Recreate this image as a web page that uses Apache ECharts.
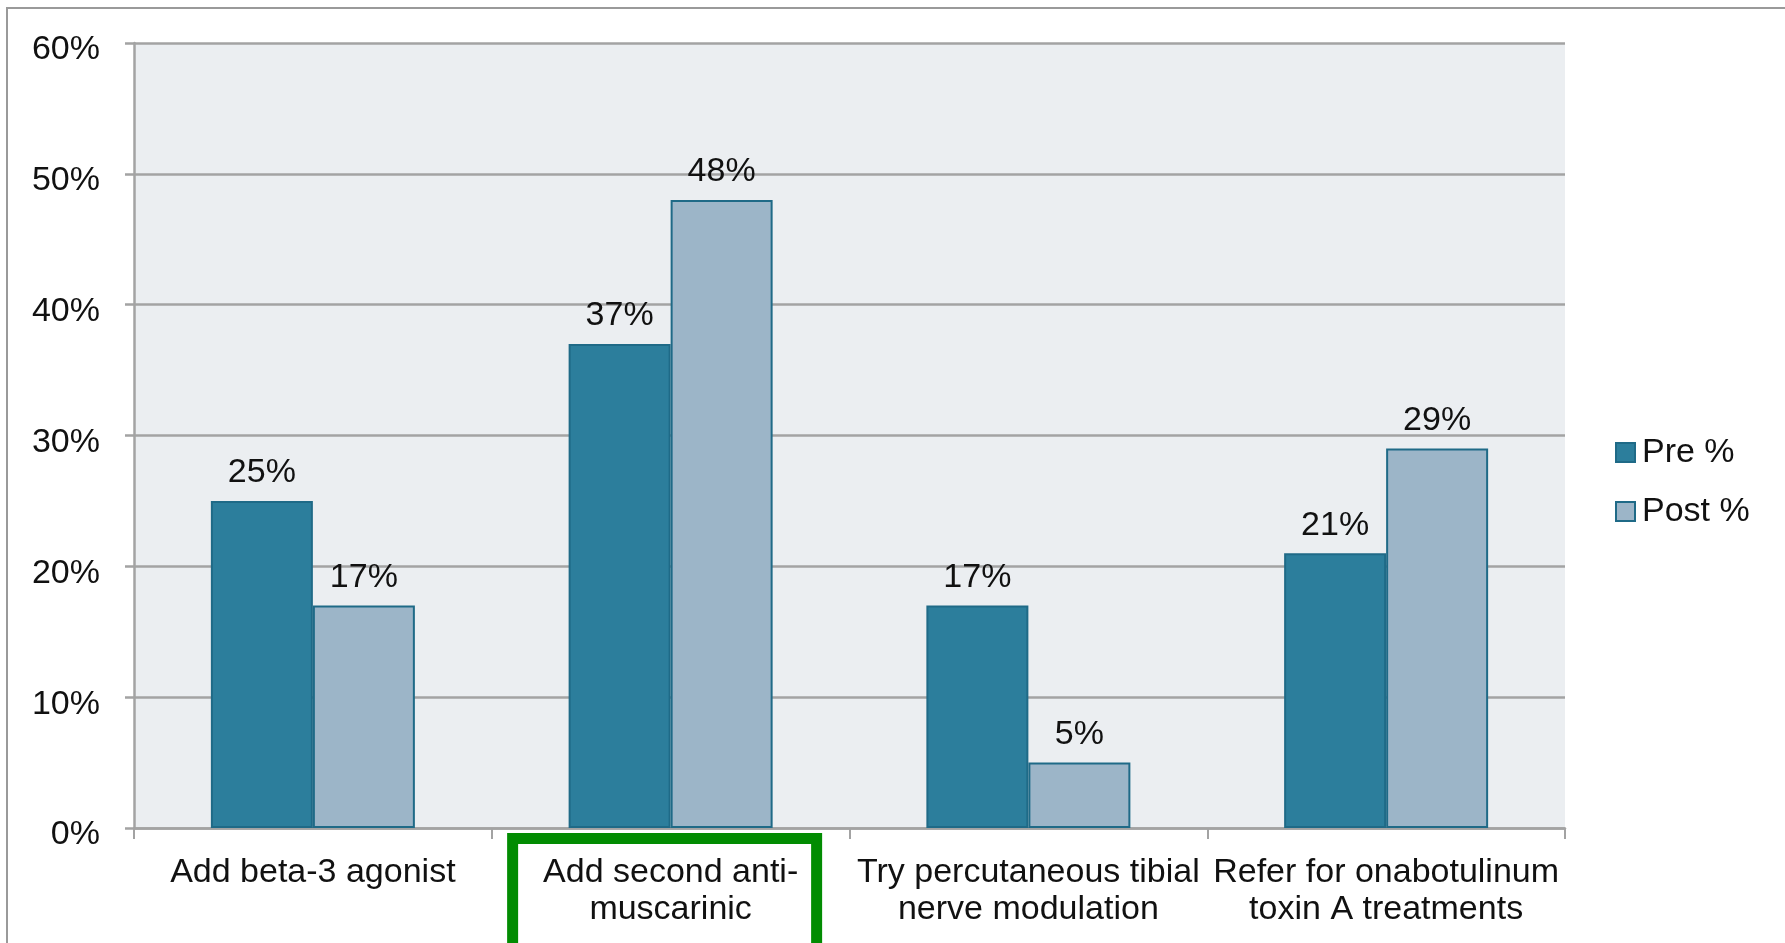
<!DOCTYPE html>
<html>
<head>
<meta charset="utf-8">
<title>Pre vs Post</title>
<script src="https://cdn.jsdelivr.net/npm/echarts@6/dist/echarts.min.js"></script>
<style>
  html, body { margin: 0; padding: 0; background: #ffffff; }
  #chart { width: 1785px; height: 943px; }
</style>
</head>
<body>
<div id="chart"></div>
<script>
// Treatment options (category labels, wrapped as shown under the axis)
const categories = [
  'Add beta-3 agonist',
  'Add second anti-\nmuscarinic',
  'Try percutaneous tibial\nnerve modulation',
  'Refer for onabotulinum\ntoxin A treatments'
];
// Share of responses choosing each option, in percent
const preValues = [25, 37, 17, 21];
const postValues = [17, 48, 5, 29];
const seriesNames = ['Pre %', 'Post %'];
// Value axis range and step, in percent
const yMin = 0;
const yMax = 60;
const yStep = 10;
// Index of the option that is boxed in green
const highlightIndex = 1;

const FONT = '"Liberation Sans", Arial, sans-serif';
const PRE_COLOR = '#2c7e9c';
const POST_COLOR = '#9cb5c8';
const EDGE_COLOR = '#1f6a87';
const GRID_COLOR = '#a3a3a3';

const chart = echarts.init(document.getElementById('chart'), null, { renderer: 'canvas' });

const labelStyle = {
  show: true,
  position: 'top',
  distance: 11,
  formatter: '{c}%',
  fontFamily: FONT,
  fontSize: 34,
  color: '#111111'
};

chart.setOption({
  animation: false,
  backgroundColor: '#ffffff',
  textStyle: { fontFamily: FONT },
  grid: {
    left: 134,
    right: 220,
    top: 43,
    bottom: 115,
    show: true,
    backgroundColor: '#ebeef1',
    borderWidth: 0
  },
  legend: {
    orient: 'vertical',
    left: 1610,
    top: 429,
    itemWidth: 19,
    itemHeight: 19,
    itemGap: 22,
    icon: 'rect',
    textStyle: { fontFamily: FONT, fontSize: 34, color: '#111111', lineHeight: 37, padding: [0, 0, 0, 2] },
    data: seriesNames
  },
  xAxis: {
    type: 'category',
    data: categories,
    boundaryGap: true,
    axisLine: { show: true, lineStyle: { color: GRID_COLOR, width: 2.5 } },
    axisTick: { show: true, length: 11, lineStyle: { color: GRID_COLOR, width: 2 } },
    axisLabel: {
      interval: 0,
      margin: 26,
      fontFamily: FONT,
      fontSize: 34,
      lineHeight: 37,
      color: '#111111',
      align: 'center'
    },
    splitLine: { show: false }
  },
  yAxis: {
    type: 'value',
    min: yMin,
    max: yMax,
    interval: yStep,
    axisLine: { show: true, lineStyle: { color: GRID_COLOR, width: 2.5 } },
    axisTick: { show: true, inside: false, length: 9, lineStyle: { color: GRID_COLOR, width: 2.5 } },
    axisLabel: {
      formatter: '{v|{value}%}',
      margin: 34,
      color: '#111111',
      rich: {
        v: { fontFamily: FONT, fontSize: 34, color: '#111111', padding: [14, 0, 0, 0] }
      }
    },
    splitLine: { show: true, lineStyle: { color: GRID_COLOR, width: 2.5 } }
  },
  series: [
    {
      name: seriesNames[0],
      type: 'bar',
      data: preValues,
      barWidth: 102,
      barGap: '0%',
      itemStyle: { color: PRE_COLOR, borderColor: EDGE_COLOR, borderWidth: 2 },
      label: labelStyle
    },
    {
      name: seriesNames[1],
      type: 'bar',
      data: postValues,
      barWidth: 102,
      barGap: '0%',
      itemStyle: { color: POST_COLOR, borderColor: EDGE_COLOR, borderWidth: 2 },
      label: labelStyle
    }
  ]
});

// Outer frame and the green box around the highlighted option's label
const catX = chart.convertToPixel({ xAxisIndex: 0 }, highlightIndex);
const axisY = chart.convertToPixel({ yAxisIndex: 0 }, yMin);
const boxW = 304;
const boxLine = 11;

chart.setOption({
  graphic: [
    {
      type: 'rect',
      silent: true,
      z: 0,
      shape: { x: 7, y: 8, width: 3000, height: 3000 },
      style: { fill: null, stroke: '#9a9a9a', lineWidth: 2 }
    },
    {
      type: 'rect',
      silent: true,
      z: 100,
      shape: {
        x: catX - 6 - boxW / 2,
        y: axisY + 5 + boxLine / 2,
        width: boxW,
        height: 200
      },
      style: { fill: null, stroke: '#028c02', lineWidth: boxLine }
    }
  ]
});
</script>
</body>
</html>
